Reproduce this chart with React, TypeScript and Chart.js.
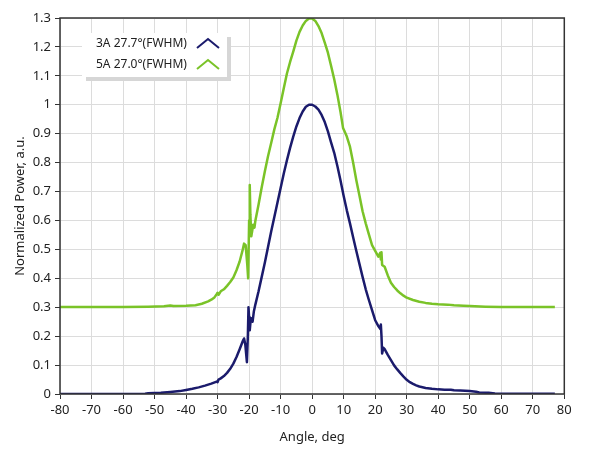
import { useEffect, useRef } from "react";
import { Chart, registerables } from "chart.js";

Chart.register(...registerables);

// ---- data ----
const seriesLabels = ["3A 27.7°(FWHM)", "5A 27.0°(FWHM)"];
const seriesColors = ["#1b1b6c", "#7ac328"];

const navyAngles = [
  -80, -70, -60, -53, -52, -48, -45, -42, -40, -38, -36, -34, -32, -30.3, -30, -29.7, -29, -28, -27, -26, -25, -24, -23,
  -22, -21.6, -21.2, -20.7, -20.4, -20.2, -20.0, -19.8, -19.5, -19.2, -18.9, -18.5, -18, -17, -16, -15, -14, -13, -12,
  -11, -10, -9, -8, -7, -6, -5, -4, -3, -2, -1, 0, 1, 2, 3, 4, 5, 6, 7, 8, 9, 10, 11, 12, 13, 14, 15, 16, 17, 18, 19, 20,
  21, 21.6, 21.8, 22.0, 22.2, 22.6, 23, 24, 25, 26, 27, 28, 29, 30, 31, 32, 33, 34, 36, 38, 40, 42, 44, 45, 47, 50, 52,
  53, 56, 58, 60, 70, 77,
];
const navyValues = [
  0, 0, 0, 0.001, 0.003, 0.004, 0.007, 0.01, 0.014, 0.018, 0.023, 0.029, 0.036, 0.043, 0.041, 0.05, 0.054, 0.062, 0.073,
  0.087, 0.105, 0.128, 0.155, 0.183, 0.192, 0.17, 0.11, 0.2, 0.3, 0.265, 0.22, 0.255, 0.262, 0.25, 0.285, 0.31, 0.355,
  0.405, 0.455, 0.508, 0.562, 0.612, 0.662, 0.712, 0.762, 0.808, 0.851, 0.89, 0.925, 0.954, 0.977, 0.993, 1.0, 1.0,
  0.994, 0.983, 0.965, 0.94, 0.908, 0.87, 0.834, 0.788, 0.738, 0.685, 0.635, 0.59, 0.542, 0.495, 0.45, 0.405, 0.362,
  0.325, 0.29, 0.255, 0.235, 0.225, 0.24, 0.2, 0.14, 0.16, 0.155, 0.135, 0.117, 0.099, 0.085, 0.072, 0.06, 0.049, 0.041,
  0.035, 0.03, 0.026, 0.021, 0.018, 0.016, 0.015, 0.015, 0.013, 0.012, 0.01, 0.008, 0.005, 0.004, 0.002, 0.001, 0.001,
  0.001,
];

const greenAngles = [
  -80, -70, -60, -52, -47, -45, -44, -40, -37, -35, -33, -32, -31, -30.3, -30, -29.7, -29, -28, -27, -26, -25, -24, -23,
  -22, -21.6, -21.1, -20.6, -20.3, -20.0, -19.8, -19.6, -19.3, -19.0, -18.7, -18.3, -18, -17, -16, -15, -14, -13, -12,
  -11, -10, -9, -8, -7, -6, -5, -4, -3, -2, -1, 0, 1, 2, 3, 4, 5, 6, 7, 8, 9, 9.8, 10.2, 11, 12, 13, 14, 15, 16, 17, 18,
  19, 20, 21, 21.6, 21.8, 22.0, 22.2, 23, 24, 25, 26, 27, 28, 29, 30, 32, 34, 36, 38, 40, 43, 45, 48, 50, 55, 60, 77,
];
const greenValues = [
  0.301, 0.301, 0.301, 0.302, 0.303, 0.306, 0.304, 0.305, 0.307, 0.312, 0.32, 0.326, 0.334, 0.345, 0.35, 0.343, 0.355,
  0.362, 0.374, 0.387, 0.403, 0.428, 0.458, 0.5, 0.52, 0.515, 0.45, 0.4, 0.6, 0.723, 0.62, 0.545, 0.565, 0.585, 0.575,
  0.6, 0.655, 0.715, 0.77, 0.822, 0.868, 0.915, 0.955, 1.005, 1.057, 1.108, 1.148, 1.184, 1.222, 1.252, 1.274, 1.29,
  1.298, 1.298, 1.29, 1.272, 1.248, 1.215, 1.18, 1.135, 1.088, 1.035, 0.975, 0.92, 0.91, 0.89, 0.855, 0.8, 0.74, 0.686,
  0.632, 0.59, 0.552, 0.515, 0.495, 0.475, 0.488, 0.465, 0.49, 0.446, 0.44, 0.41, 0.385, 0.37, 0.358, 0.348, 0.34,
  0.333, 0.325, 0.319, 0.315, 0.312, 0.31, 0.309, 0.307, 0.305, 0.304, 0.302, 0.301, 0.301,
];

const xMin = -80;
const xMax = 80;
const xStep = 10;
const yMin = 0;
const yMax = 1.3;
const yStep = 0.1;
const xTitle = "Angle, deg";
const yTitle = "Normalized Power, a.u.";

const FONT = "'Noto Sans', 'DejaVu Sans', sans-serif";
const TEXT = "#222222";

const framePlugin = {
  id: "frame",
  afterDatasetsDraw(chart: any) {
    const { ctx, chartArea } = chart;
    const { left, top, right, bottom } = chartArea;
    ctx.save();
    ctx.strokeStyle = "#333333";
    ctx.lineWidth = 1.5;
    ctx.strokeRect(left, top, right - left, bottom - top);
    ctx.restore();
  },
};

const legendPlugin = {
  id: "boxLegend",
  afterDraw(chart: any) {
    const { ctx, chartArea } = chart;
    const bx = chartArea.left + 22;
    const by = chartArea.top + 15;
    const bw = 145;
    const bh = 44;
    ctx.save();
    ctx.fillStyle = "#d6d6d6";
    ctx.fillRect(bx + 4, by + 4, bw, bh);
    ctx.fillStyle = "#ffffff";
    ctx.fillRect(bx, by, bw, bh);
    ctx.font = `12px ${FONT}`;
    ctx.textBaseline = "middle";
    ctx.textAlign = "left";
    chart.data.datasets.forEach((ds: any, i: number) => {
      const cy = by + 11 + i * 21;
      ctx.fillStyle = TEXT;
      ctx.fillText(ds.label, bx + 14, cy);
      ctx.strokeStyle = ds.borderColor;
      ctx.lineWidth = 2;
      ctx.lineJoin = "miter";
      ctx.beginPath();
      ctx.moveTo(bx + 115, cy + 4);
      ctx.lineTo(bx + 126, cy - 5);
      ctx.lineTo(bx + 137, cy + 4);
      ctx.stroke();
    });
    ctx.restore();
  },
};

export default function App() {
  const ref = useRef<HTMLCanvasElement | null>(null);

  useEffect(() => {
    const canvas = ref.current;
    if (!canvas) return;
    const toPoints = (xs: number[], ys: number[]) => xs.map((x, i) => ({ x, y: ys[i] }));
    const chart = new Chart(canvas, {
      type: "line",
      data: {
        datasets: [
          {
            label: seriesLabels[0],
            data: toPoints(navyAngles, navyValues),
            borderColor: seriesColors[0],
            backgroundColor: seriesColors[0],
            borderWidth: 2.5,
            pointRadius: 0,
            tension: 0,
            borderJoinStyle: "round",
          },
          {
            label: seriesLabels[1],
            data: toPoints(greenAngles, greenValues),
            borderColor: seriesColors[1],
            backgroundColor: seriesColors[1],
            borderWidth: 2.5,
            pointRadius: 0,
            tension: 0,
            borderJoinStyle: "round",
          },
        ],
      },
      options: {
        animation: false,
        responsive: false,
        devicePixelRatio: 1,
        parsing: false as any,
        layout: { padding: { left: 0, right: 24.7, top: 18, bottom: 0 } },
        plugins: { legend: { display: false }, tooltip: { enabled: false } },
        scales: {
          x: {
            type: "linear",
            min: xMin,
            max: xMax,
            ticks: {
              stepSize: xStep,
              autoSkip: false,
              maxRotation: 0,
              padding: 3,
              color: TEXT,
              font: { family: FONT, size: 13 },
            },
            grid: { color: "#dcdcdc", tickColor: "#333333", tickLength: 5, lineWidth: 1 },
            border: { display: false },
            title: {
              display: true,
              text: xTitle,
              color: TEXT,
              font: { family: FONT, size: 13 },
              padding: { top: 0, bottom: 11 },
            },
            afterFit: (s: any) => {
              s.height = 62;
            },
          },
          y: {
            type: "linear",
            min: yMin,
            max: yMax,
            ticks: {
              stepSize: yStep,
              autoSkip: false,
              padding: 4,
              color: TEXT,
              font: { family: FONT, size: 13 },
              callback: (v: any) => String(Number(Number(v).toFixed(1))),
            },
            grid: { color: "#dcdcdc", tickColor: "#333333", tickLength: 5, lineWidth: 1 },
            border: { display: false },
            title: {
              display: true,
              text: yTitle,
              color: TEXT,
              font: { family: FONT, size: 13 },
              padding: { top: 12, bottom: 0 },
            },
            afterFit: (s: any) => {
              s.width = 60;
            },
          },
        },
      },
      plugins: [framePlugin, legendPlugin],
    });
    return () => chart.destroy();
  }, []);

  return (
    <div style={{ position: "absolute", left: 0, top: 0, width: 589, height: 456, background: "#ffffff" }}>
      <canvas ref={ref} width={589} height={456} style={{ width: 589, height: 456, display: "block" }} />
    </div>
  );
}
